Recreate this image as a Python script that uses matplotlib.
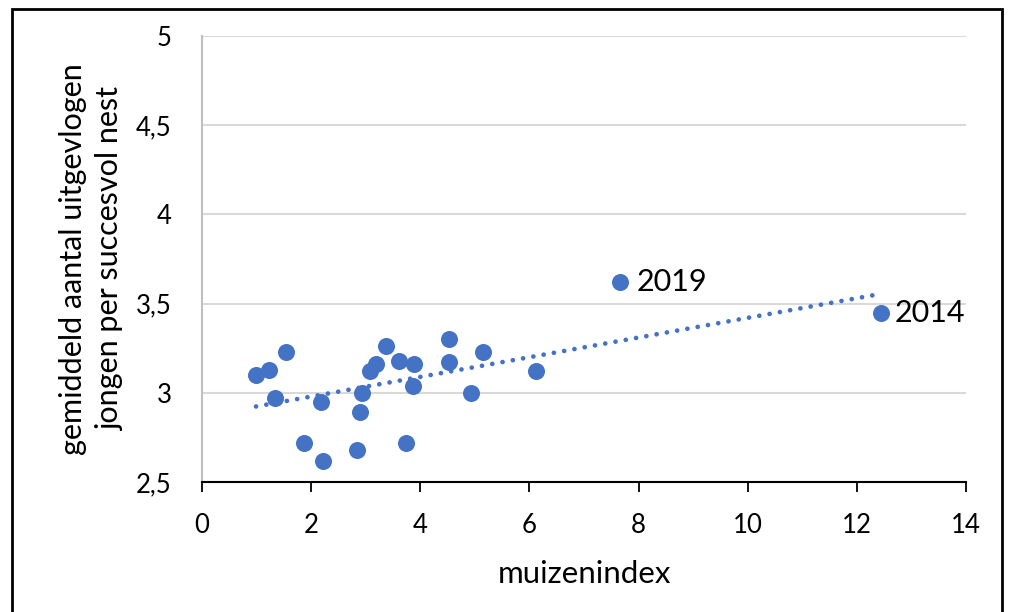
import numpy as np
import matplotlib.pyplot as plt
from matplotlib.patches import Rectangle

# muizenindex vs gemiddeld aantal uitgevlogen jongen per succesvol nest
muizenindex = [0.99, 1.23, 1.34, 1.54, 1.87, 2.18, 2.22, 2.84, 2.90, 2.93, 3.08, 3.19,
               3.37, 3.61, 3.74, 3.87, 3.88, 4.53, 4.53, 4.93, 5.15, 6.12, 7.66, 12.44]
jongen = [3.10, 3.13, 2.97, 3.23, 2.72, 2.95, 2.62, 2.68, 2.89, 3.00, 3.12, 3.16,
          3.26, 3.18, 2.72, 3.04, 3.16, 3.30, 3.17, 3.00, 3.23, 3.12, 3.62, 3.45]
jaar_labels = {22: '2019', 23: '2014'}

xticks = [0, 2, 4, 6, 8, 10, 12, 14]
yticks = [2.5, 3, 3.5, 4, 4.5, 5]
ytick_labels = ['2,5', '3', '3,5', '4', '4,5', '5']

plt.rcParams['font.family'] = ['Lato', 'DejaVu Sans']
blauw = '#4472C4'

fig = plt.figure(figsize=(10.09, 6.12), dpi=100)
ax = fig.add_axes([0.2002, 0.2124, 0.7572, 0.7288])

# kader rond de figuur
fig.patches.append(Rectangle((0.012, -0.01), 0.981, 0.996, transform=fig.transFigure,
                             fill=False, edgecolor='black', linewidth=2))

ax.scatter(muizenindex, jongen, s=150, color=blauw, zorder=3, linewidths=0)

# trendlijn (gestippeld)
a, b = np.polyfit(muizenindex, jongen, 1)
xs = np.array([min(muizenindex), max(muizenindex)])
ax.plot(xs, a * xs + b, linestyle=(0, (0.01, 2.2)), color=blauw, linewidth=3.4,
        dash_capstyle='round', zorder=2)

offsets = {'2019': 12, '2014': 10}
for i, lab in jaar_labels.items():
    ax.annotate(lab, (muizenindex[i], jongen[i]), xytext=(offsets[lab], 0),
                textcoords='offset points', va='center', ha='left', fontsize=22)

ax.set_xlim(0, 14)
ax.set_ylim(2.5, 5)
ax.set_xticks(xticks)
ax.set_yticks(yticks)
ax.set_yticklabels(ytick_labels)
ax.tick_params(axis='both', labelsize=18.5)
ax.tick_params(axis='y', length=0, pad=22)
ax.tick_params(axis='x', direction='out', length=7, width=1.3, color='black', pad=15)
ax.grid(axis='y', color='#d9d9d9', linewidth=1.5)
ax.set_axisbelow(True)

for s in ['top', 'right']:
    ax.spines[s].set_visible(False)
ax.spines['left'].set_color('#bfbfbf')
ax.spines['left'].set_linewidth(1.5)
ax.spines['bottom'].set_color('black')
ax.spines['bottom'].set_linewidth(1.5)

ax.set_xlabel('muizenindex', fontsize=22.5, labelpad=16)
ax.set_ylabel('gemiddeld aantal uitgevlogen\njongen per succesvol nest', fontsize=22,
              labelpad=8, linespacing=1.4)

fig.savefig('out.png', dpi=100)
